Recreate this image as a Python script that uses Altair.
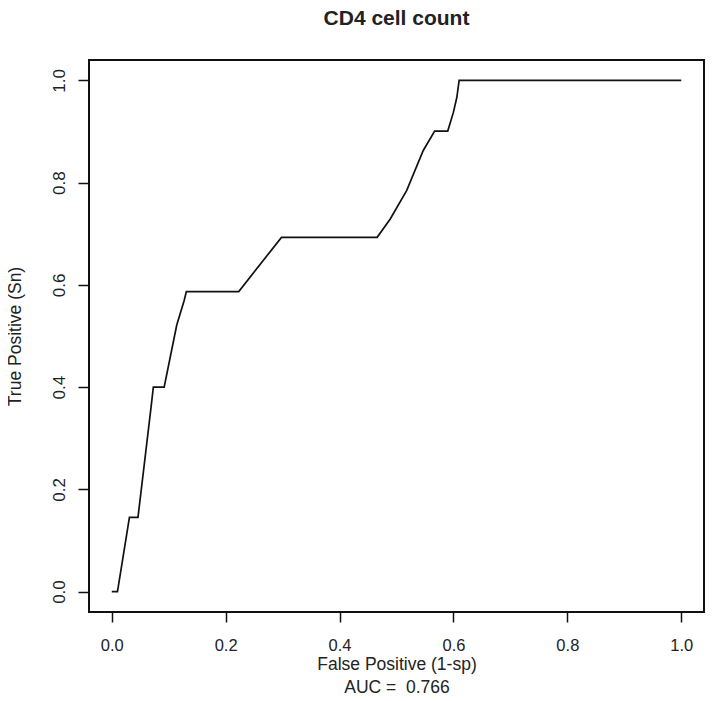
import altair as alt
import pandas as pd

# ROC curve points
fpr = [0.0, 0.010, 0.031, 0.046, 0.069, 0.073, 0.092, 0.102, 0.114, 0.127, 0.131,
       0.223, 0.298, 0.466, 0.489, 0.518, 0.547, 0.567, 0.590, 0.600, 0.606, 0.610, 1.0]
tpr = [0.0, 0.0, 0.145, 0.145, 0.361, 0.400, 0.400, 0.455, 0.521, 0.569, 0.587,
       0.587, 0.693, 0.693, 0.729, 0.785, 0.863, 0.901, 0.901, 0.938, 0.967, 1.0, 1.0]
tick_values = [0.0, 0.2, 0.4, 0.6, 0.8, 1.0]
title_text = "CD4 cell count"
x_title = ["False Positive (1-sp)", "AUC =\u00a0 0.766"]
y_title = "True Positive (Sn)"

df = pd.DataFrame({"fpr": fpr, "tpr": tpr, "order": list(range(len(fpr)))})

FONT = "Liberation Sans"

chart = alt.Chart(df).mark_line(color="#111111", strokeWidth=1.7).encode(
    x=alt.X("fpr:Q",
            scale=alt.Scale(domain=[-0.04, 1.04], nice=False, zero=False),
            axis=alt.Axis(values=tick_values, format=".1f", title=x_title,
                          grid=False, domain=False, tickSize=10, tickWidth=1.5,
                          tickColor="#111111", labelFontSize=16.5, labelFont=FONT,
                          labelColor="#222222", labelPadding=15,
                          titleFontSize=17.5, titleFont=FONT, titleFontWeight="normal",
                          titleColor="#222222", titlePadding=2, titleLineHeight=23)),
    y=alt.Y("tpr:Q",
            scale=alt.Scale(domain=[-0.04, 1.04], nice=False, zero=False),
            axis=alt.Axis(values=tick_values, format=".1f", title=y_title,
                          grid=False, domain=False, tickSize=11, tickWidth=1.5,
                          tickColor="#111111", labelFontSize=17, labelFont=FONT,
                          labelColor="#222222", labelAngle=-90, labelAlign="center",
                          labelBaseline="bottom", labelPadding=10,
                          titleFontSize=17.5, titleFont=FONT, titleFontWeight="normal",
                          titleColor="#222222", titlePadding=26)),
    order="order:Q",
).properties(
    width=615,
    height=552,
    title=alt.TitleParams(title_text, fontSize=21, font=FONT, fontWeight="bold",
                          color="#222222", anchor="middle", offset=31),
    autosize=alt.AutoSizeParams(type="none"),
    padding={"left": 81, "top": 52, "right": 2, "bottom": 81},
).configure_view(
    stroke="#111111", strokeWidth=2
)

chart.save("out.html", embed_options={"renderer": "svg", "actions": False})
